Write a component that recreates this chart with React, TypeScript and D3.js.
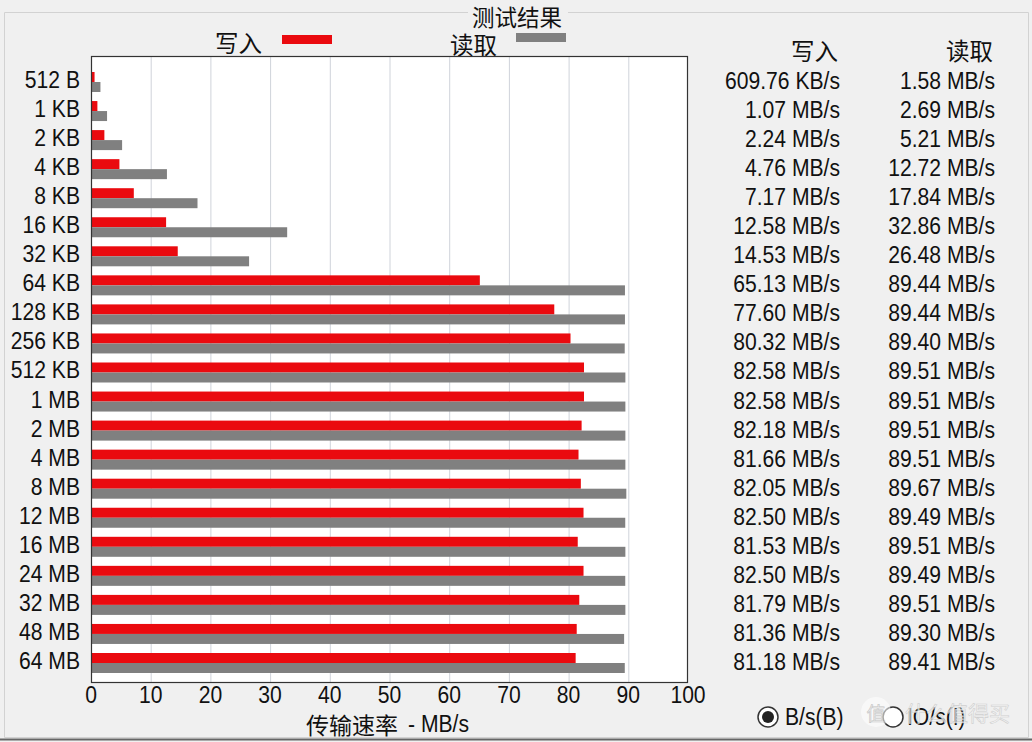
import React from "react";
import * as d3 from "d3";

const categories = ["512 B","1 KB","2 KB","4 KB","8 KB","16 KB","32 KB","64 KB","128 KB","256 KB","512 KB","1 MB","2 MB","4 MB","8 MB","12 MB","16 MB","24 MB","32 MB","48 MB","64 MB"];
const writeValues = [0.5955, 1.07, 2.24, 4.76, 7.17, 12.58, 14.53, 65.13, 77.6, 80.32, 82.58, 82.58, 82.18, 81.66, 82.05, 82.5, 81.53, 82.5, 81.79, 81.36, 81.18];
const readValues = [1.58, 2.69, 5.21, 12.72, 17.84, 32.86, 26.48, 89.44, 89.44, 89.4, 89.51, 89.51, 89.51, 89.51, 89.67, 89.49, 89.51, 89.49, 89.51, 89.3, 89.41];
const writeLabels = ["609.76 KB/s","1.07 MB/s","2.24 MB/s","4.76 MB/s","7.17 MB/s","12.58 MB/s","14.53 MB/s","65.13 MB/s","77.60 MB/s","80.32 MB/s","82.58 MB/s","82.58 MB/s","82.18 MB/s","81.66 MB/s","82.05 MB/s","82.50 MB/s","81.53 MB/s","82.50 MB/s","81.79 MB/s","81.36 MB/s","81.18 MB/s"];
const readLabels = ["1.58 MB/s","2.69 MB/s","5.21 MB/s","12.72 MB/s","17.84 MB/s","32.86 MB/s","26.48 MB/s","89.44 MB/s","89.44 MB/s","89.40 MB/s","89.51 MB/s","89.51 MB/s","89.51 MB/s","89.51 MB/s","89.67 MB/s","89.49 MB/s","89.51 MB/s","89.49 MB/s","89.51 MB/s","89.30 MB/s","89.41 MB/s"];
const xTicks = [0, 10, 20, 30, 40, 50, 60, 70, 80, 90, 100];

const W = 1032, H = 742;
const PL = 91, PR = 688, PT = 56, PB = 683;
const NUM = "'Liberation Sans', Arial, sans-serif";
const CJK = "'Noto Sans CJK SC', sans-serif";
const RED = "#ea0a0f";
const GRAY = "#808080";
const SX = 0.88;

function NText({ x, y, anchor = "start", size = 24, children }: { x: number; y: number; anchor?: string; size?: number; children: React.ReactNode }) {
  return (
    <g transform={`translate(${x},${y}) scale(${SX},1)`}>
      <text x={0} y={0} textAnchor={anchor as any} dominantBaseline="central" fontFamily={NUM} fontSize={size} fill="#111">{children}</text>
    </g>
  );
}

export default function App() {
  if (typeof document !== "undefined") document.body.style.margin = "0";
  const x = d3.scaleLinear().domain([0, 100]).range([PL, PR]);
  const y = d3.scalePoint<string>().domain(categories).range([82, 663]);
  const bh = 10;
  return (
    <svg width={W} height={H} style={{ display: "block" }}>
      <rect x={0} y={0} width={W} height={H} fill="#f0f0f0" />
      {/* group box */}
      <path d={`M468,12.5 H4.5 V737.5 H1028.5 V12.5 H568`} fill="none" stroke="#d2d2d2" strokeWidth={1} />
      <line x1={0} x2={W} y1={739.5} y2={739.5} stroke="#666" strokeWidth={2} />
      <text x={517} y={15.5} textAnchor="middle" dominantBaseline="central" fontFamily={CJK} fontSize={22.5} fill="#111">测试结果</text>
      {/* legend */}
      <text x={262} y={42} textAnchor="end" dominantBaseline="central" fontFamily={CJK} fontSize={23.5} fill="#111">写入</text>
      <rect x={282} y={35} width={50} height={9} fill={RED} />
      <text x={497} y={44} textAnchor="end" dominantBaseline="central" fontFamily={CJK} fontSize={23.5} fill="#111">读取</text>
      <rect x={516} y={33} width={50} height={9} fill={GRAY} />
      {/* plot */}
      <rect x={PL} y={PT} width={PR - PL} height={PB - PT} fill="#ffffff" />
      {xTicks.slice(1, -1).map((t) => (
        <line key={t} x1={x(t) + 0.5} x2={x(t) + 0.5} y1={PT} y2={PB} stroke="#cfd3da" strokeWidth={1} />
      ))}
      {categories.map((c, i) => {
        const cy = y(c)!;
        return (
          <g key={c}>
            <rect x={x(0)} y={cy - bh} width={x(writeValues[i]) - x(0)} height={bh} fill={RED} />
            <rect x={x(0)} y={cy} width={x(readValues[i]) - x(0)} height={bh} fill={GRAY} />
          </g>
        );
      })}
      <rect x={PL + 0.5} y={PT + 0.5} width={PR - PL - 1} height={PB - PT - 1} fill="none" stroke="#333" strokeWidth={1.2} />
      {/* y labels */}
      {categories.map((c) => (
        <NText key={c} x={80} y={y(c)! - 2} anchor="end">{c}</NText>
      ))}
      {/* x ticks */}
      {xTicks.map((t) => (
        <NText key={t} x={x(t)} y={695} anchor="middle">{t}</NText>
      ))}
      <text x={352} y={724} textAnchor="middle" dominantBaseline="central" fontFamily={CJK} fontSize={23} fill="#111">传输速率</text>
      <NText x={408} y={724}>- MB/s</NText>
      {/* value columns */}
      <text x={838} y={50} textAnchor="end" dominantBaseline="central" fontFamily={CJK} fontSize={23.5} fill="#111">写入</text>
      <text x={993} y={50} textAnchor="end" dominantBaseline="central" fontFamily={CJK} fontSize={23.5} fill="#111">读取</text>
      {categories.map((c, i) => (
        <g key={c}>
          <NText x={840} y={y(c)! - 1} anchor="end">{writeLabels[i]}</NText>
          <NText x={995} y={y(c)! - 1} anchor="end">{readLabels[i]}</NText>
        </g>
      ))}
      {/* radio buttons */}
      <circle cx={768} cy={717} r={10} fill="#fff" stroke="#333" strokeWidth={1.5} />
      <circle cx={768} cy={717} r={6} fill="#222" />
      <NText x={785} y={717}>B/s(B)</NText>
      <circle cx={893} cy={717} r={10} fill="#fff" stroke="#333" strokeWidth={1.5} />
      <NText x={907} y={717}>IO/s(I)</NText>
      {/* watermark */}
      <g opacity={0.8}>
        <circle cx={876} cy={712} r={15} fill="#fff" opacity={0.7} />
        <text x={876} y={712} textAnchor="middle" dominantBaseline="central" fontFamily={CJK} fontSize={19} fill="#eeeeee" stroke="#bbb" strokeWidth={0.6}>值</text>
        <text x={905} y={712} dominantBaseline="central" fontFamily={CJK} fontSize={21} fill="#f6f6f6" stroke="#c8c8c8" strokeWidth={0.6}>什么值得买</text>
      </g>
    </svg>
  );
}
